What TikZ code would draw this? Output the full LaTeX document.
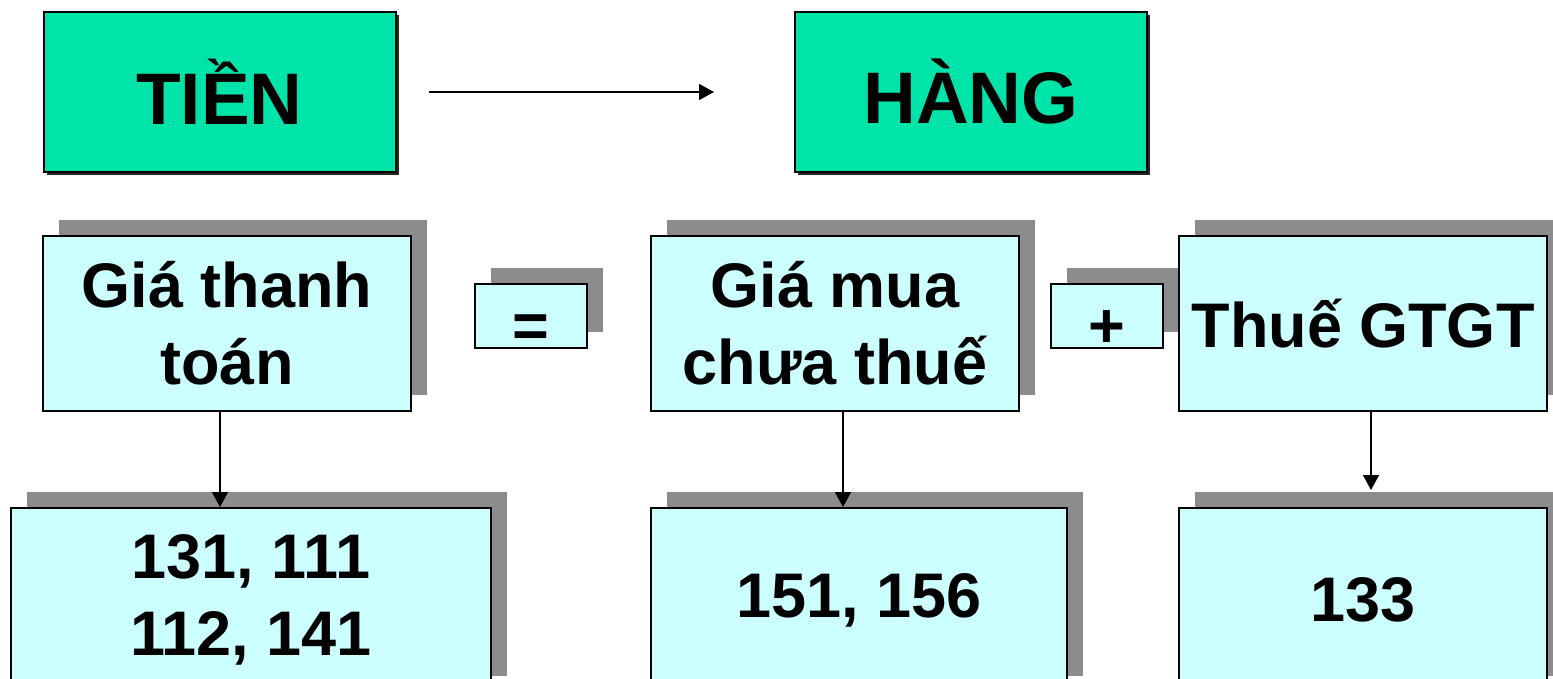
\documentclass[tikz,border=0pt]{standalone}
\usepackage{fontspec}
\setmainfont{Liberation Sans}
\usetikzlibrary{shadows,arrows.meta}
\definecolor{topgreen}{RGB}{0,228,170}
\definecolor{boxcyan}{RGB}{204,255,255}
\definecolor{shadowgray}{RGB}{140,140,140}
\tikzset{
  topbox/.style={draw, line width=1pt, fill=topgreen, minimum width=176pt, minimum height=80pt,
    font=\fontsize{36.5}{40}\selectfont\bfseries,
    general shadow={fill=black!85, shadow xshift=1.5pt, shadow yshift=-1.5pt}},
  cyanbox/.style={draw, line width=1pt, fill=boxcyan, align=center, inner sep=0pt,
    font=\fontsize{31.5}{38.5}\selectfont\bfseries,
    general shadow={fill=shadowgray, shadow xshift=8pt, shadow yshift=8pt}},
  signbox/.style={cyanbox, minimum width=56pt, minimum height=32pt, text height=32pt, text depth=0pt},
  arr/.style={line width=0.75pt, -{Triangle[width=8pt,length=7.5pt]}}
}
\begin{document}
\begin{tikzpicture}[x=0.5pt,y=-0.5pt]
\clip (0,0) rectangle (1553,679);
% top row
\node[topbox] (tien) at (219.5,92) {TIỀN};
\node[topbox] (hang) at (971,92) {HÀNG};
\path[draw,arr,shorten <=16pt,shorten >=40pt] (tien) -- (hang);
% middle row
\node[cyanbox, minimum width=184pt, minimum height=87.5pt] (gtt) at (227,323.5) {Giá thanh\\toán};
\node[signbox] (eq) at (531,316) {=};
\node[cyanbox, minimum width=184pt, minimum height=87.5pt] (gmua) at (835,323.5) {Giá mua\\chưa thuế};
\node[signbox] (plus) at (1107,316) {+};
\node[cyanbox, minimum width=184pt, minimum height=87.5pt] (thue) at (1363,323.5) {Thuế GTGT};
% bottom row
\node[cyanbox, minimum width=240pt, minimum height=92pt] (tk) at (251,600) {131, 111\\112, 141};
\node[cyanbox, minimum width=208pt, minimum height=92pt] (tkhang) at (859,600) {151, 156};
\node[cyanbox, minimum width=184pt, minimum height=92pt] (tkthue) at (1363,600) {133};
\path[draw,arr] ([xshift=-3.5pt]gtt.south) -- ([xshift=-3.5pt]gtt.south |- tk.north);
\path[draw,arr] ([xshift=4pt]gmua.south) -- ([xshift=4pt]gmua.south |- tkhang.north);
\path[draw,arr,shorten >=8.5pt] ([xshift=4pt]thue.south) -- ([xshift=4pt]thue.south |- tkthue.north);
\end{tikzpicture}
\end{document}
